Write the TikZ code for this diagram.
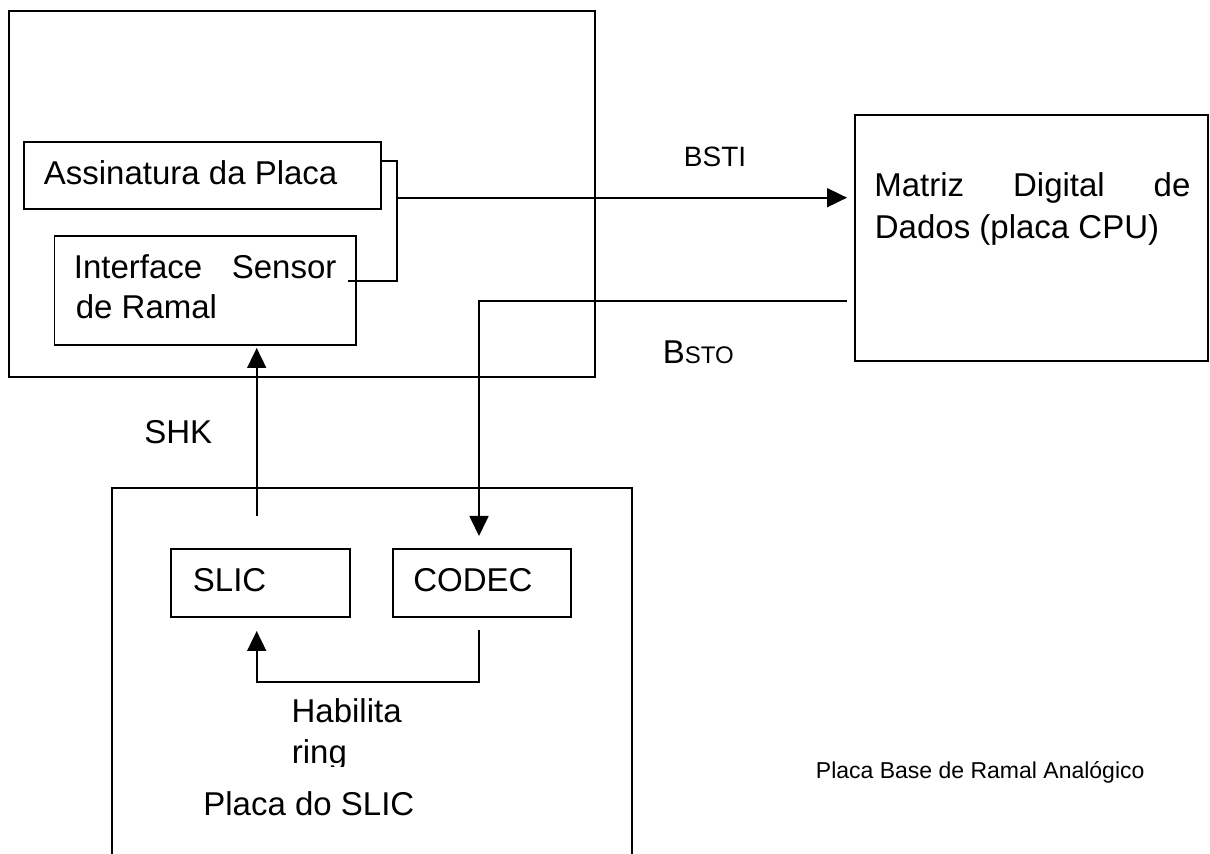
\documentclass[tikz,border=0pt]{standalone}
\usepackage{fontspec}
\setmainfont{Liberation Sans}
\usetikzlibrary{arrows.meta}
\begin{document}
\begin{tikzpicture}[x=0.5pt,y=-0.5pt,
  line width=0.9pt,
  box/.style={draw, inner sep=0pt, line width=0.9pt},
  lbl/.style={inner sep=0pt, anchor=base west, font=\fontsize{16.5}{19.8}\selectfont},
  small/.style={inner sep=0pt, anchor=base west, font=\fontsize{11.5}{13.8}\selectfont},
  arr/.style={-{Triangle[width=9.5pt,length=10pt]}}]
\useasboundingbox (0,0) rectangle (1210,854);

% boxes
\node[box, minimum width=293.35pt, minimum height=183.3pt] (base) at (301.95,194) {};
\node[box, minimum width=178.5pt, minimum height=33.5pt] (assin) at (202.2,175.5) {};
\node[box, minimum width=150.75pt, minimum height=54.35pt] (iface) at (205.25,290.65) {};
\node[box, minimum width=176.5pt, minimum height=122.85pt] (matriz) at (1031.5,237.85) {};
\node[box, minimum width=89.5pt, minimum height=34pt] (slic) at (260.5,583) {};
\node[box, minimum width=89.15pt, minimum height=34pt] (codec) at (481.85,583) {};
\draw (111.7,854) -- (111.7,488.3) -- (632,488.3) -- (632,854);

% texts
\node[lbl] (tAssin) at (43,184.3) {Assinatura da Placa};
\node[lbl] (tIf1) at (73,278.3) {\makebox[131.25pt]{Interface\hfill Sensor}};
\node[lbl] (tIf2) at (75,318.3) {de Ramal};
\node[lbl] (tM1) at (873.5,196.7) {\makebox[158pt]{Matriz\hfill Digital\hfill de}};
\node[lbl] (tM2) at (874,238.3) {Dados (placa CPU)};
\node[lbl, font=\fontsize{14}{16.8}\selectfont] (tBSTI) at (683,166.7) {BSTI};
\node[lbl] (tBSTO) at (662,363.3) {B{\fontsize{12}{14.4}\selectfont STO}};
\node[lbl] (tSHK) at (143.5,443.3) {SHK};
\node[lbl] (tSLIC) at (192,591.7) {SLIC};
\node[lbl] (tCODEC) at (412.5,591.7) {CODEC};
\node[lbl] (tHab) at (290.7,723) {Habilita};
\begin{scope}
  \clip (280,735) rectangle (400,767);
  \node[lbl] (tRing) at (291,763) {ring};
\end{scope}
\node[lbl] (tPlacaSlic) at (202.5,815) {Placa do SLIC};
\node[small] (tPlacaBase) at (815,779) {Placa Base de Ramal Analógico};

% connectors
\coordinate (b1) at (396.7,160.7);
\coordinate (b2) at (396.7,280.7);
\coordinate (b3) at (348,280.7);
\draw (assin.east |- b1) -- (b1) -- (b2) -- (b3);
\coordinate (j) at (396.7,197.7);
\coordinate (bstiEnd) at (847,197.7);
\draw[arr] (j) -- (bstiEnd);
\coordinate (bstoStart) at (847,301);
\coordinate (bstoBend) at (479,301);
\coordinate (codecIn) at (479,536);
\draw[arr] (bstoStart) -- (bstoBend) -- (codecIn);
\coordinate (shkStart) at (256.7,516);
\coordinate (shkEnd) at (256.7,348);
\draw[arr] (shkStart) -- (shkEnd);
\coordinate (h1) at (479,630);
\coordinate (h2) at (479,682);
\coordinate (h3) at (256.7,682);
\coordinate (h4) at (256.7,631);
\draw[arr] (h1) -- (h2) -- (h3) -- (h4);
\end{tikzpicture}
\end{document}
